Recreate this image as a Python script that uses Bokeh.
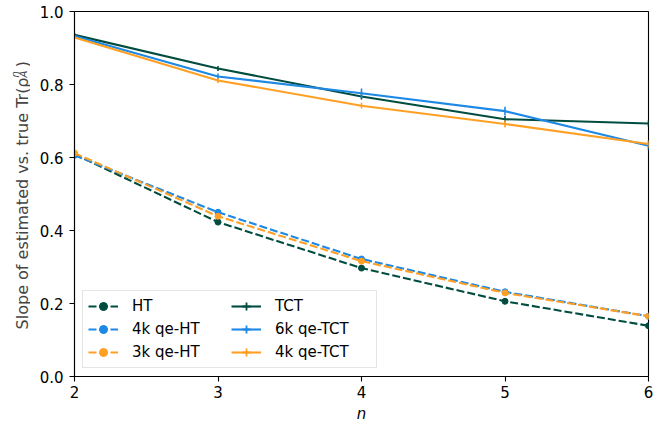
from bokeh.plotting import figure
from bokeh.layouts import row
from bokeh.models import (ColumnDataSource, Range1d, FixedTicker, NumeralTickFormatter,
                          Legend, LegendItem, Label)
from bokeh.embed import file_html
from bokeh.resources import INLINE
import math

# ---- data ----
n_vals = [2, 3, 4, 5, 6]
ht = [0.609, 0.423, 0.297, 0.206, 0.139]
ht_err = [0.006, 0.006, 0.006, 0.005, 0.005]
qe_ht_4k = [0.606, 0.450, 0.322, 0.232, 0.165]
qe_ht_4k_err = [0.006, 0.006, 0.006, 0.005, 0.005]
qe_ht_3k = [0.612, 0.439, 0.316, 0.229, 0.165]
qe_ht_3k_err = [0.006, 0.006, 0.006, 0.005, 0.005]
tct = [0.936, 0.844, 0.767, 0.705, 0.693]
tct_err = [0.005, 0.007, 0.008, 0.009, 0.009]
qe_tct_6k = [0.933, 0.822, 0.776, 0.727, 0.632]
qe_tct_6k_err = [0.006, 0.008, 0.013, 0.012, 0.012]
qe_tct_4k = [0.929, 0.811, 0.742, 0.692, 0.637]
qe_tct_4k_err = [0.005, 0.007, 0.008, 0.010, 0.010]

x_ticks = [2, 3, 4, 5, 6]
y_ticks = [0.0, 0.2, 0.4, 0.6, 0.8, 1.0]

GREEN = "#004D40"
BLUE = "#1E88E5"
ORANGE = "#FFA024"
FONT = "DejaVu Sans"

LAB_W = 30
H = 426

p = figure(frame_width=574, frame_height=365,
           x_range=Range1d(2, 6), y_range=Range1d(0, 1),
           output_backend="svg", toolbar_location=None,
           min_border_left=74 - LAB_W, min_border_right=21,
           min_border_top=11, min_border_bottom=50)
p.xgrid.visible = False
p.ygrid.visible = False
p.outline_line_color = "black"
p.outline_line_width = 1.1
p.background_fill_color = "white"
p.border_fill_color = "white"

for ax in (p.xaxis[0], p.yaxis[0]):
    ax.major_label_text_font = FONT
    ax.major_label_text_font_size = "15px"
    ax.major_label_text_color = "black"
    ax.axis_line_color = "black"
    ax.axis_line_width = 1.1
    ax.major_tick_line_color = "black"
    ax.major_tick_line_width = 1.1
    ax.major_tick_out = 5
    ax.major_tick_in = 0
    ax.minor_tick_out = 0
    ax.minor_tick_in = 0

p.xaxis[0].ticker = FixedTicker(ticks=x_ticks)
p.yaxis[0].ticker = FixedTicker(ticks=y_ticks)
p.yaxis[0].formatter = NumeralTickFormatter(format="0.0")
p.xaxis[0].major_label_standoff = 4
p.yaxis[0].major_label_standoff = 6
p.xaxis[0].axis_label = "n"
p.xaxis[0].axis_label_text_font = FONT
p.xaxis[0].axis_label_text_font_size = "15px"
p.xaxis[0].axis_label_text_font_style = "italic"
p.xaxis[0].axis_label_text_color = "black"
p.xaxis[0].axis_label_standoff = 4


def series(vals, errs, color, dashed, dots):
    src = ColumnDataSource(dict(
        x=n_vals, y=vals,
        lo=[v - e for v, e in zip(vals, errs)],
        hi=[v + e for v, e in zip(vals, errs)]))
    rs = []
    ln = p.line("x", "y", source=src, line_color=color, line_width=2.1,
                line_dash="8 3" if dashed else "solid")
    rs.append(ln)
    p.segment(x0="x", y0="lo", x1="x", y1="hi", source=src,
              line_color=color, line_width=1.6)
    if dots:
        sc = p.scatter("x", "y", source=src, size=6, marker="circle",
                       fill_color=color, line_color=color)
        rs.append(sc)
    # zero-size cross at the same points: invisible in the plot, shows the
    # error-bar "+" symbol in the legend
    eb = p.scatter("x", "y", source=src, marker="cross", size=0,
                   line_color=color, line_width=1.8)
    rs.append(eb)
    return rs


r_ht = series(ht, ht_err, GREEN, True, True)
r_4ht = series(qe_ht_4k, qe_ht_4k_err, BLUE, True, True)
r_3ht = series(qe_ht_3k, qe_ht_3k_err, ORANGE, True, True)
r_tct = series(tct, tct_err, GREEN, False, False)
r_6tct = series(qe_tct_6k, qe_tct_6k_err, BLUE, False, False)
r_4tct = series(qe_tct_4k, qe_tct_4k_err, ORANGE, False, False)

legend = Legend(items=[
    LegendItem(label="HT", renderers=r_ht),
    LegendItem(label="4k qe-HT", renderers=r_4ht),
    LegendItem(label="3k qe-HT", renderers=r_3ht),
    LegendItem(label="TCT", renderers=r_tct),
    LegendItem(label="6k qe-TCT", renderers=r_6tct),
    LegendItem(label="4k qe-TCT", renderers=r_4tct),
], ncols=2, location="bottom_left")
legend.label_text_font = FONT
legend.label_text_font_size = "15px"
legend.label_text_color = "black"
legend.label_standoff = 14
legend.glyph_width = 30
legend.glyph_height = 20
legend.label_height = 20
legend.label_width = 96
legend.spacing = 3
legend.padding = 5
legend.margin = 8
legend.border_line_color = "#cccccc"
legend.border_line_width = 1
legend.background_fill_alpha = 0.85
p.add_layout(legend)

# ---- narrow panel holding the composed y-axis label ----
lab = figure(width=LAB_W, height=H, x_range=Range1d(0, LAB_W), y_range=Range1d(0, H),
             output_backend="svg", toolbar_location=None,
             x_axis_type=None, y_axis_type=None, min_border=0)
lab.grid.visible = False
lab.outline_line_color = None
lab.background_fill_color = "white"
lab.border_fill_color = "white"

DX = -5
lab.add_layout(Label(x=27 + DX, y=H - 77, text="Slope of estimated vs. true Tr(ρ",
                     text_font=FONT, text_font_size="16px", angle=math.pi / 2,
                     text_align="right", text_baseline="alphabetic"))
lab.add_layout(Label(x=20 + DX, y=H - 77, text="n", text_font=FONT, text_font_size="10px",
                     text_font_style="italic", angle=math.pi / 2,
                     text_align="left", text_baseline="alphabetic"))
lab.add_layout(Label(x=27.5 + DX, y=H - 77, text="A", text_font=FONT, text_font_size="10px",
                     text_font_style="italic", angle=math.pi / 2,
                     text_align="left", text_baseline="alphabetic"))
lab.add_layout(Label(x=27 + DX, y=H - 65, text=")", text_font=FONT, text_font_size="16px",
                     angle=math.pi / 2, text_align="left", text_baseline="alphabetic"))

layout = row(lab, p, spacing=0)
open("out.html", "w").write(file_html(layout, INLINE))
